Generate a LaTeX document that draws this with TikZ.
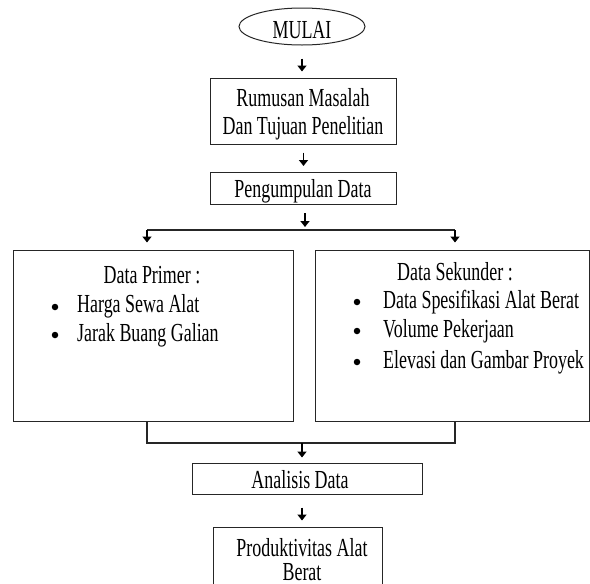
\documentclass[tikz,border=0pt]{standalone}
\usepackage{fontspec}
\setmainfont[FakeStretch=0.69]{Liberation Serif}
\usetikzlibrary{arrows.meta,shapes.geometric}
\begin{document}
\begin{tikzpicture}[x=1pt,y=-1pt,
  box/.style={draw=black!85, line width=1pt, inner sep=0, rectangle},
  txt/.style={inner sep=0, font=\fontsize{26}{28}\selectfont},
  arr/.style={line width=1.5pt, -{Triangle[width=9pt,length=6pt]}},
  ln/.style={draw=black!85, line width=1.3pt},
  dot/.style={circle, fill, inner sep=0, minimum size=6.5pt}]
\useasboundingbox (0,0) rectangle (590,584);
\fill[white] (0,0) rectangle (590,584);
% boxes
\node[box, ellipse, minimum width=126pt, minimum height=37pt] (mulai) at (302,26.5) {};
\node[box, minimum width=186pt, minimum height=66pt] (rumusan) at (303.5,111) {};
\node[box, minimum width=186pt, minimum height=32pt] (pengumpulan) at (303.5,188.5) {};
\node[box, minimum width=280pt, minimum height=171pt] (primer) at (153,335.5) {};
\node[box, minimum width=274.5pt, minimum height=171pt] (sekunder) at (452.25,335.5) {};
\node[box, minimum width=230pt, minimum height=31pt] (analisis) at (307,478.5) {};
\node[box, minimum width=169pt, minimum height=60pt] (produk) at (297.5,557) {};
% texts
\node[txt, anchor=base] (tmulai) at (302,38.5) {MULAI};
\node[txt, anchor=base] (tr1) at (303,106) {Rumusan Masalah};
\node[txt, anchor=base] (tr2) at (303,134) {Dan Tujuan Penelitian};
\node[txt, anchor=base] (tpg) at (303,197) {Pengumpulan Data};
\node[txt, anchor=base] (tp) at (152,283) {Data Primer :};
\node[dot] (bp1) at (55,307) {};
\node[txt, anchor=base west] (p1) at (77,312) {Harga Sewa Alat};
\node[dot] (bp2) at (55,335) {};
\node[txt, anchor=base west] (p2) at (77,341) {Jarak Buang Galian};
\node[txt, anchor=base] (ts) at (455,280) {Data Sekunder :};
\node[dot] (bs1) at (357,302) {};
\node[txt, anchor=base west] (s1) at (383,308) {Data Spesifikasi Alat Berat};
\node[dot] (bs2) at (357,331) {};
\node[txt, anchor=base west] (s2) at (383,337) {Volume Pekerjaan};
\node[dot] (bs3) at (357,362) {};
\node[txt, anchor=base west] (s3) at (383,368) {Elevasi dan Gambar Proyek};
\node[txt, anchor=base] (ta) at (300,488) {Analisis Data};
\node[txt, anchor=base] (tk1) at (302,556) {Produktivitas Alat};
\node[txt, anchor=base] (tk2) at (302,580) {Berat};
% coordinates
\coordinate (split) at (305,230);
\coordinate (sl) at (147,230);
\coordinate (sr) at (455,230);
\coordinate (ml) at (147,443);
\coordinate (mr) at (455,443);
\coordinate (merge) at (302,443);
% connectors
\draw[arr, shorten <=13pt, shorten >=6pt] (mulai.south) -- (mulai.south |- rumusan.north);
\draw[arr, shorten <=8pt, shorten >=6pt] (rumusan.south) -- (pengumpulan.north);
\draw[arr, shorten <=8pt, shorten >=3pt] (split |- pengumpulan.south) -- (split);
\draw[ln] (sl) -- (sr);
\draw[arr, shorten >=7pt] (sl) -- (sl |- primer.north);
\draw[arr, shorten >=7pt] (sr) -- (sr |- sekunder.north);
\draw[ln] (ml |- primer.south) -- (ml) -- (mr) -- (mr |- sekunder.south);
\draw[arr, shorten >=5pt] (merge) -- (merge |- analisis.north);
\draw[arr, shorten <=13pt, shorten >=6pt] (merge |- analisis.south) -- (merge |- produk.north);
\end{tikzpicture}
\end{document}
